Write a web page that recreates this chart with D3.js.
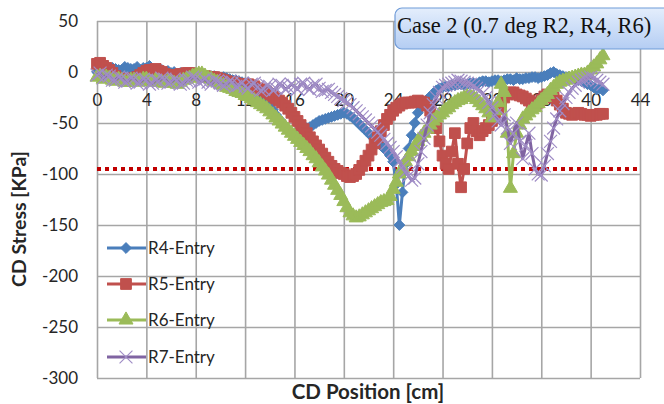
<!DOCTYPE html>
<html>
<head>
<meta charset="utf-8">
<script src="https://cdn.jsdelivr.net/npm/d3@7"></script>
<style>
  body { margin: 0; background: #fff; }
  svg { display: block; }
</style>
</head>
<body>
<svg id="chart"></svg>
<script>
// CD position [cm] of each sample
var pos = [
  0, 0.25, 0.5, 0.75, 1, 1.25, 1.5, 1.75, 2, 2.25, 2.5, 2.75, 3, 3.25, 3.5, 3.75, 4, 4.25, 4.5, 4.75,
  5, 5.25, 5.5, 5.75, 6, 6.25, 6.5, 6.75, 7, 7.25, 7.5, 7.75, 8, 8.25, 8.5, 8.75, 9, 9.25, 9.5, 9.75,
  10, 10.25, 10.5, 10.75, 11, 11.25, 11.5, 11.75, 12, 12.25, 12.5, 12.75, 13, 13.25, 13.5, 13.75, 14, 14.25, 14.5, 14.75,
  15, 15.25, 15.5, 15.75, 16, 16.25, 16.5, 16.75, 17, 17.25, 17.5, 17.75, 18, 18.25, 18.5, 18.75, 19, 19.25, 19.5, 19.75,
  20, 20.25, 20.5, 20.75, 21, 21.25, 21.5, 21.75, 22, 22.25, 22.5, 22.75, 23, 23.25, 23.5, 23.75, 24, 24.25, 24.5, 24.75,
  25, 25.25, 25.5, 25.75, 26, 26.25, 26.5, 26.75, 27, 27.25, 27.5, 27.75, 28, 28.25, 28.5, 28.75, 29, 29.25, 29.5, 29.75,
  30, 30.25, 30.5, 30.75, 31, 31.25, 31.5, 31.75, 32, 32.25, 32.5, 32.75, 33, 33.25, 33.5, 33.75, 34, 34.25, 34.5, 34.75,
  35, 35.25, 35.5, 35.75, 36, 36.25, 36.5, 36.75, 37, 37.25, 37.5, 37.75, 38, 38.25, 38.5, 38.75, 39, 39.25, 39.5, 39.75,
  40, 40.25, 40.5, 40.75, 41];

// CD stress [KPa]
var r4 = [
  0, 3, 2, 1, 1, 4, 3, 2, 2, 5, 4, 3, 3, 5, 2, 4, 4, 6, 3, 2,
  1, 2, 0, 1, -1, 0, -2, -1, -1, -3, -2, -1, -3, -2, -4, -3, -5, -4, -4, -5,
  -6, -5, -6, -7, -8, -8, -9, -10, -11, -12, -14, -16, -18, -21, -24, -28, -32, -37, -42, -46,
  -50, -54, -58, -60, -62, -62, -60, -58, -55, -54, -52, -50, -48, -47, -46, -45, -44, -43, -42, -41,
  -40, -41, -43, -45, -48, -51, -54, -57, -60, -63, -66, -69, -72, -75, -78, -82, -88, -110, -150, -118,
  -90, -75, -62, -50, -40, -35, -30, -27, -24, -21, -18, -16, -15, -14, -14, -13, -13, -12, -12, -13,
  -12, -11, -11, -12, -10, -9, -9, -10, -9, -8, -8, -9, -8, -7, -7, -8, -6, -7, -7, -6,
  -6, -5, -5, -6, -5, -4, -3, -1, 0, -2, -3, -4, -5, -5, -6, -7, -8, -9, -10, -12,
  -13, -15, -17, -16, -18];

var r5 = [
  8, 9, 6, 4, 2, -1, -4, -6, -7, -8, -8, -7, -6, -5, -3, -1, 1, 2, 2, 3,
  1, 0, -2, -3, -4, -4, -3, -2, -2, -1, -1, -2, -2, -3, -4, -4, -5, -5, -5, -6,
  -7, -8, -9, -10, -10, -11, -12, -12, -12, -12, -13, -14, -16, -17, -18, -20, -22, -24, -26, -28,
  -30, -33, -36, -40, -44, -48, -52, -56, -60, -64, -68, -72, -76, -80, -84, -88, -92, -95, -97, -99,
  -100, -102, -103, -102, -100, -96, -92, -87, -82, -76, -70, -64, -58, -52, -46, -42, -38, -35, -33, -31,
  -30, -30, -30, -29, -28, -29, -30, -33, -38, -45, -55, -68, -82, -90, -95, -78, -60, -90, -113, -95,
  -70, -55, -50, -58, -62, -58, -55, -52, -48, -42, -36, -30, -25, -22, -20, -20, -22, -23, -24, -26,
  -28, -30, -33, -30, -27, -24, -22, -23, -25, -28, -32, -36, -40, -41, -42, -41, -40, -41, -42, -42,
  -43, -42, -42, -41, -41];

var r6 = [
  -5, -4, -7, -5, -6, -8, -9, -7, -8, -10, -10, -8, -8, -10, -9, -7, -7, -9, -10, -8,
  -9, -10, -11, -9, -10, -11, -12, -10, -8, -7, -6, -4, -3, -2, -2, -4, -6, -7, -9, -10,
  -12, -13, -15, -16, -17, -19, -20, -21, -23, -24, -26, -28, -30, -32, -34, -36, -39, -42, -45, -48,
  -51, -54, -57, -60, -63, -66, -69, -72, -75, -78, -82, -85, -89, -93, -97, -101, -106, -111, -116, -121,
  -127, -133, -138, -141, -143, -142, -140, -138, -136, -134, -132, -130, -128, -127, -126, -122, -115, -108, -100, -94,
  -88, -83, -78, -73, -68, -64, -60, -56, -52, -48, -45, -42, -40, -37, -35, -32, -30, -28, -27, -25,
  -24, -24, -25, -27, -30, -33, -36, -40, -45, -38, -30, -12, -20, -60, -114, -80, -60, -52, -46, -43,
  -40, -37, -35, -31, -28, -25, -22, -18, -15, -12, -10, -9, -8, -7, -6, -5, -4, -3, -3, -1,
  2, 5, 8, 12, 16];

var r7 = [
  -3, -1, -6, -3, -4, -8, -8, -5, -6, -10, -9, -6, -7, -11, -10, -7, -8, -12, -11, -8,
  -9, -6, -7, -11, -10, -7, -8, -12, -11, -8, -8, -5, -6, -10, -9, -7, -10, -12, -8, -9,
  -11, -13, -12, -9, -10, -14, -13, -11, -14, -16, -12, -11, -15, -18, -17, -13, -14, -18, -16, -12,
  -13, -17, -15, -12, -14, -17, -12, -11, -15, -17, -13, -12, -16, -19, -18, -17, -20, -22, -24, -26,
  -28, -30, -32, -35, -38, -41, -44, -47, -50, -53, -56, -59, -62, -66, -70, -74, -78, -83, -88, -93,
  -98, -102, -106, -104, -90, -78, -65, -52, -40, -32, -25, -20, -15, -13, -12, -11, -10, -8, -9, -10,
  -11, -12, -14, -16, -18, -21, -25, -30, -35, -42, -48, -52, -42, -55, -70, -60, -50, -68, -85, -72,
  -60, -80, -95, -100, -101, -92, -80, -68, -55, -46, -38, -31, -25, -20, -16, -13, -10, -8, -7, -6,
  -5, -6, -8, -10, -12];

var seriesNames = ['R4-Entry', 'R5-Entry', 'R6-Entry', 'R7-Entry'];
var xTicks = [0, 4, 8, 12, 16, 20, 24, 28, 32, 36, 40, 44];
var yTicks = [50, 0, -50, -100, -150, -200, -250, -300];
var limitValue = -95;
var caseTitle = 'Case 2 (0.7 deg R2, R4, R6)';

var width = 664, height = 404;
var font = 'Lato, "Open Sans", sans-serif';

var svg = d3.select('svg#chart')
  .attr('width', width)
  .attr('height', height);

var x = d3.scaleLinear().domain([0, 44]).range([97, 640]);
var y = d3.scaleLinear().domain([-300, 50]).range([378, 21]);

// grid
svg.append('g')
  .attr('transform', 'translate(0,' + y(-300) + ')')
  .call(d3.axisBottom(x).tickValues(xTicks).tickSize(-(y(-300) - y(50))).tickFormat(''))
  .call(function(g) {
    g.select('.domain').remove();
    g.selectAll('line').attr('stroke', '#a6a6a6').attr('stroke-width', 1.6);
  });

svg.append('g')
  .attr('transform', 'translate(' + x(0) + ',0)')
  .call(d3.axisLeft(y).tickValues(yTicks).tickSize(-(x(44) - x(0))).tickFormat(''))
  .call(function(g) {
    g.select('.domain').remove();
    g.selectAll('line').attr('stroke', '#a6a6a6').attr('stroke-width', 1.6);
  });

// tick labels (plain hyphen minus like the original)
var plain = function(d) { return String(d); };

svg.append('g')
  .attr('transform', 'translate(' + x(0) + ',0)')
  .call(d3.axisLeft(y).tickValues(yTicks).tickSize(0).tickPadding(19).tickFormat(plain))
  .call(function(g) {
    g.select('.domain').remove();
    g.selectAll('text').attr('font-family', font).attr('font-size', 17).attr('fill', '#262626');
  });

svg.append('g')
  .attr('transform', 'translate(0,' + y(0) + ')')
  .call(d3.axisBottom(x).tickValues(xTicks).tickSize(0).tickPadding(22).tickFormat(plain))
  .call(function(g) {
    g.select('.domain').remove();
    g.selectAll('text').attr('font-family', font).attr('font-size', 17).attr('fill', '#262626');
  });

// limit line
svg.append('line')
  .attr('x1', x(0)).attr('x2', x(44))
  .attr('y1', y(limitValue)).attr('y2', y(limitValue))
  .attr('stroke', '#c00000')
  .attr('stroke-width', 4)
  .attr('stroke-dasharray', '4,4');

// series
var series = [
  { name: seriesNames[0], values: r4, color: '#4a7ebb', symbol: d3.symbolDiamond2, size: 75, fill: true },
  { name: seriesNames[1], values: r5, color: '#c0504d', symbol: d3.symbolSquare, size: 115, fill: true },
  { name: seriesNames[2], values: r6, color: '#9bbb59', symbol: d3.symbolTriangle, size: 85, fill: true },
  { name: seriesNames[3], values: r7, color: '#8064a2', symbol: d3.symbolX, size: 110, fill: false }
];

var line = d3.line()
  .x(function(d) { return x(d[0]); })
  .y(function(d) { return y(d[1]); });

function drawMarker(sel, s) {
  sel.attr('d', d3.symbol().type(s.symbol).size(s.size)());
  if (s.fill) {
    sel.attr('fill', s.color).attr('stroke', s.color).attr('stroke-width', 1);
  } else {
    sel.attr('fill', 'none').attr('stroke', '#a08dc6').attr('stroke-width', 1.2);
  }
}

series.forEach(function(s) {
  var pts = pos.map(function(p, i) { return [p, s.values[i]]; });
  var g = svg.append('g');
  g.append('path')
    .datum(pts)
    .attr('d', line)
    .attr('fill', 'none')
    .attr('stroke', s.color)
    .attr('stroke-width', 3)
    .attr('stroke-linejoin', 'round');
  g.selectAll('path.m')
    .data(pts)
    .enter()
    .append('path')
    .attr('class', 'm')
    .attr('transform', function(d) { return 'translate(' + x(d[0]) + ',' + y(d[1]) + ')'; })
    .each(function() { drawMarker(d3.select(this), s); });
});

// legend
var legend = svg.append('g');
var legendY = [248, 284, 320, 357];
series.forEach(function(s, i) {
  var ly = legendY[i];
  legend.append('line')
    .attr('x1', 107).attr('x2', 146)
    .attr('y1', ly).attr('y2', ly)
    .attr('stroke', s.color).attr('stroke-width', 3);
  legend.append('path')
    .attr('transform', 'translate(126,' + ly + ')')
    .call(drawMarker, s);
  legend.append('text')
    .attr('x', 148).attr('y', ly + 6)
    .attr('font-family', font).attr('font-size', 17).attr('fill', '#262626')
    .text(s.name);
});

// axis titles
svg.append('text')
  .attr('x', 368).attr('y', 399)
  .attr('text-anchor', 'middle')
  .attr('font-family', font).attr('font-size', 20.5).attr('font-weight', 'bold').attr('fill', '#262626')
  .text('CD Position [cm]');

svg.append('text')
  .attr('transform', 'translate(26,219) rotate(-90)')
  .attr('text-anchor', 'middle')
  .attr('font-family', font).attr('font-size', 19.5).attr('font-weight', 'bold').attr('fill', '#262626')
  .text('CD Stress [KPa]');

// title box
var defs = svg.append('defs');
var grad = defs.append('linearGradient').attr('id', 'boxFill').attr('x1', 0).attr('y1', 0).attr('x2', 0).attr('y2', 1);
grad.append('stop').attr('offset', '0%').attr('stop-color', '#e4eefc');
grad.append('stop').attr('offset', '100%').attr('stop-color', '#b4cdf3');

svg.append('rect')
  .attr('x', 395).attr('y', 8)
  .attr('width', 280).attr('height', 41)
  .attr('rx', 7)
  .attr('fill', 'url(#boxFill)')
  .attr('stroke', '#6f9bd8')
  .attr('stroke-width', 1.2);

svg.append('text')
  .attr('x', 397).attr('y', 33)
  .attr('font-family', '"Liberation Serif", "DejaVu Serif", serif')
  .attr('font-size', 22.5)
  .attr('fill', '#111')
  .text(caseTitle);
</script>
</body>
</html>
